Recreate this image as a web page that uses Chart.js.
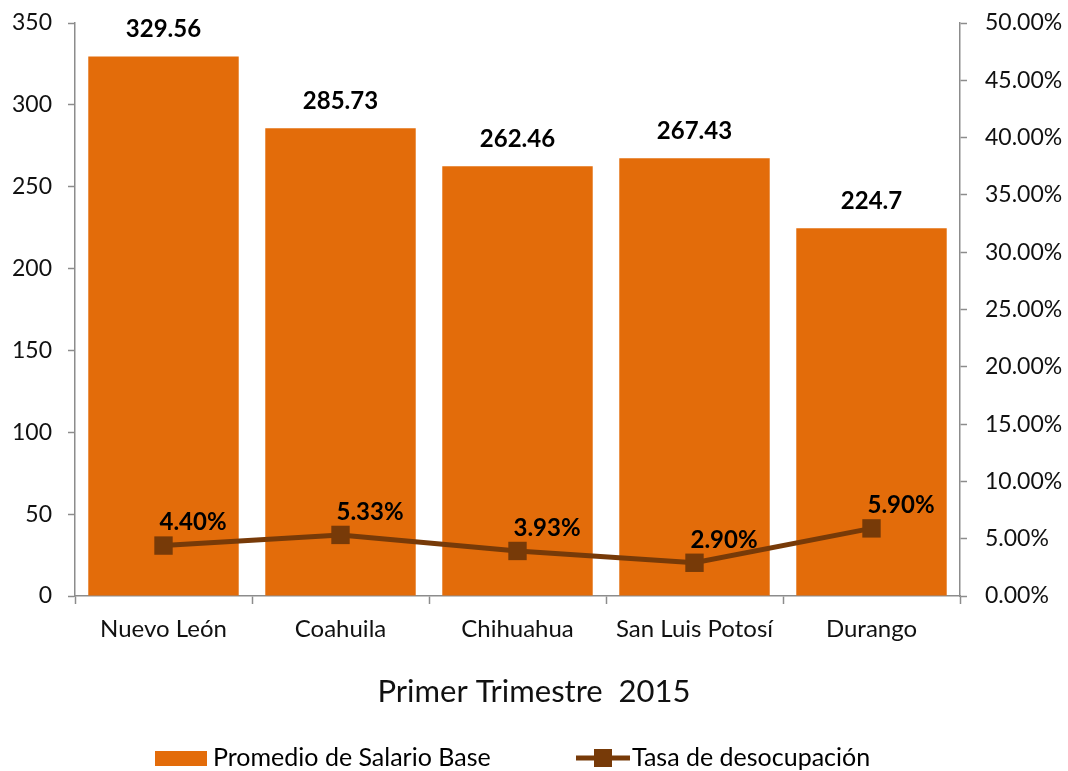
<!DOCTYPE html>
<html>
<head>
<meta charset="utf-8">
<script src="https://cdn.jsdelivr.net/npm/chart.js@4.4.0/dist/chart.umd.min.js"></script>
<style>
  html, body { margin: 0; padding: 0; background: #fff; }
  #wrap { width: 1068px; height: 771px; }
</style>
</head>
<body>
<div id="wrap"><canvas id="MyChart1" width="1068" height="771"></canvas></div>
<script>
var estados  = ['Nuevo León', 'Coahuila', 'Chihuahua', 'San Luis Potosí', 'Durango'];
var salario  = [329.56, 285.73, 262.46, 267.43, 224.7];
var tasa     = [4.40, 5.33, 3.93, 2.90, 5.90];
var salarioTicks = [0, 50, 100, 150, 200, 250, 300, 350];
var tasaTicks    = [0, 5, 10, 15, 20, 25, 30, 35, 40, 45, 50];
var titulo = 'Primer Trimestre  2015';

var naranja = '#e36c0a',
    cafe    = '#773a08',
    gris    = '#8c8c8c',
    fuente  = 'Lato, "Open Sans", sans-serif';

// etiquetas de datos sobre barras y puntos
var etiquetas = {
  id: 'etiquetas',
  afterDatasetsDraw: function (chart) {
    var ctx = chart.ctx;
    ctx.save();
    ctx.fillStyle = '#000';
    ctx.font = 'bold 24px ' + fuente;
    ctx.textBaseline = 'middle';
    chart.getDatasetMeta(0).data.forEach(function (bar, i) {
      ctx.textAlign = 'center';
      ctx.fillText(String(salario[i]), bar.x, bar.y - 27);
    });
    chart.getDatasetMeta(1).data.forEach(function (pt, i) {
      ctx.textAlign = 'left';
      ctx.fillText(tasa[i].toFixed(2) + '%', pt.x - 4, pt.y - 23);
    });
    ctx.restore();
  }
};

// titulo del eje (centrado en el lienzo) y leyenda abajo
var leyenda = {
  id: 'leyenda',
  afterDraw: function (chart) {
    var ctx = chart.ctx, y = chart.height - 13;
    var ds = chart.data.datasets;
    ctx.save();
    ctx.textBaseline = 'middle';
    ctx.textAlign = 'center';
    ctx.fillStyle = '#111';
    ctx.font = '31px ' + fuente;
    ctx.fillText(titulo, chart.width / 2, 692);

    ctx.font = '25px ' + fuente;
    ctx.textAlign = 'left';
    ctx.fillStyle = naranja;
    ctx.fillRect(155, y - 7, 52, 15);
    ctx.fillStyle = '#000';
    ctx.fillText(ds[0].label, 213, y);
    ctx.strokeStyle = cafe;
    ctx.lineWidth = 5;
    ctx.beginPath();
    ctx.moveTo(576, y);
    ctx.lineTo(630, y);
    ctx.stroke();
    ctx.fillStyle = cafe;
    ctx.fillRect(594, y - 9, 18, 18);
    ctx.fillStyle = '#000';
    ctx.fillText(ds[1].label, 632, y);
    ctx.restore();
  }
};

var data = {
  labels: estados,
  datasets: [{
    type: 'bar',
    label: 'Promedio de Salario Base',
    data: salario,
    yAxisID: 'y',
    backgroundColor: naranja,
    barPercentage: 0.85,
    categoryPercentage: 1,
    order: 1
  }, {
    type: 'line',
    label: 'Tasa de desocupación',
    data: tasa,
    yAxisID: 'y1',
    borderColor: cafe,
    backgroundColor: cafe,
    borderWidth: 5,
    pointStyle: 'rect',
    pointRadius: 13,
    pointHoverRadius: 13,
    pointBorderWidth: 0,
    tension: 0,
    order: 0
  }]
};

var options = {
  responsive: false,
  animation: false,
  layout: { padding: { top: 23, bottom: 45, left: 0, right: 0 } },
  plugins: {
    legend: { display: false },
    tooltip: { enabled: false }
  },
  scales: {
    x: {
      offset: true,
      grid: { display: true, offset: true, drawOnChartArea: false, drawTicks: true, tickLength: 8, tickColor: gris, tickWidth: 1.5 },
      border: { display: true, color: gris, width: 1.5 },
      ticks: { color: '#111', font: { family: fuente, size: 24 }, padding: 11 },
      afterFit: function (s) { s.height = 130; }
    },
    y: {
      position: 'left',
      min: 0, max: 350,
      afterBuildTicks: function (s) { s.ticks = salarioTicks.map(function (v) { return { value: v }; }); },
      grid: { display: true, drawOnChartArea: false, drawTicks: true, tickLength: 7, tickColor: gris, tickWidth: 1.5 },
      border: { display: true, color: gris, width: 1.5 },
      ticks: { color: '#111', font: { family: fuente, size: 23 }, padding: 16 },
      afterFit: function (s) { s.width = 75; s.paddingTop = 0; s.paddingBottom = 0; }
    },
    y1: {
      position: 'right',
      min: 0, max: 50,
      afterBuildTicks: function (s) { s.ticks = tasaTicks.map(function (v) { return { value: v }; }); },
      grid: { display: true, drawOnChartArea: false, drawTicks: true, tickLength: 7, tickColor: gris, tickWidth: 1.5 },
      border: { display: true, color: gris, width: 1.5 },
      ticks: { color: '#111', font: { family: fuente, size: 23 }, padding: 18,
        callback: function (v) { return Number(v).toFixed(2) + '%'; } },
      afterFit: function (s) { s.width = 108; s.paddingTop = 0; s.paddingBottom = 0; }
    }
  }
};

var chart = new Chart(document.getElementById('MyChart1').getContext('2d'), {
  data: data,
  options: options,
  plugins: [etiquetas, leyenda]
});
</script>
</body>
</html>
